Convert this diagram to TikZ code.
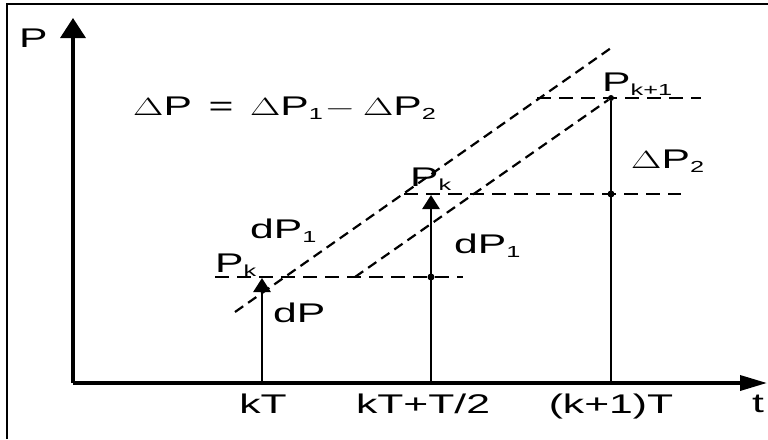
\documentclass[tikz,border=0pt]{standalone}
\usepackage{graphicx}
\usepackage{fontspec}
\setmainfont{Liberation Sans}
\usetikzlibrary{arrows.meta}

\newcommand{\wtxt}[1]{\scalebox{1.58}[1]{\fontsize{27}{32}\selectfont #1}}
\newcommand{\idx}[1]{\raisebox{-4.5pt}{\fontsize{16}{19}\selectfont #1}}

\tikzset{
  axis/.style={line width=3.5pt, -{Triangle[length=20pt,width=25pt]}},
  taxis/.style={line width=3.5pt, -{Triangle[length=27pt,width=15pt]}},
  sample/.style={line width=2.8pt},
  samplearrow/.style={line width=2.8pt, -{Triangle[length=14pt,width=17pt]}},
  level/.style={line width=2.2pt, dash pattern=on 14pt off 8pt},
  slope/.style={line width=2.2pt, dash pattern=on 10pt off 6pt},
  lbl/.style={inner sep=0pt, anchor=base west},
  tick/.style={inner sep=0pt, anchor=base},
  pt/.style={circle, fill, inner sep=0pt, minimum size=7pt},
}

\begin{document}
\begin{tikzpicture}[x=1pt, y=-1pt]
  \useasboundingbox (0,0) rectangle (768,439);
  % frame
  \draw[line width=2.5pt] (7,439) -- (7,4) -- (768,4);

  % axes
  \coordinate (O) at (73,383);
  \coordinate (ytip) at (73,18);
  \coordinate (xtip) at (767,383);
  \draw[axis] (O) -- (ytip);
  \draw[taxis] (O) -- (xtip);

  % sample instants
  \coordinate (t0) at (262,383);
  \coordinate (t1) at (431,383);
  \coordinate (t2) at (611,383);
  \coordinate (P0) at (262,278);
  \coordinate (P1) at (431,195);
  \coordinate (P2) at (611,98);
  \node[pt] (m1) at (431,277) {};
  \node[pt] (m2) at (611,194) {};
  \node[pt, minimum size=6pt] (m3) at (P2) {};
  \draw[samplearrow] (t0) -- (P0);
  \draw[samplearrow] (t1) -- (P1);
  \draw[sample] (t2) -- (m3);

  % dashed levels
  \coordinate (a1) at (215,277);
  \coordinate (a2) at (463,277);
  \coordinate (b1) at (404,194);
  \coordinate (b2) at (681,194);
  \coordinate (c1) at (537,98);
  \coordinate (c2) at (701,98);
  \draw[level] (a1) -- (a2);
  \draw[level] (b1) -- (b2);
  \draw[level] (c1) -- (c2);

  % dashed slopes
  \coordinate (s1) at (235,312);
  \coordinate (s2) at (611,48);
  \coordinate (r1) at (355,277);
  \draw[slope] (s1) -- (s2);
  \draw[slope] (r1) -- (m3);

  % labels
  \node[lbl] (Plab) at (19,47) {\wtxt{P}};
  \node[lbl] (tlab) at (752,412) {\wtxt{t}};
  \node[lbl] (eq) at (133,115) {\wtxt{$\Delta$P\kern3pt{} = \kern3pt$\Delta$P\idx{1}{\kern1pt}$-${\kern5pt}$\Delta$P\idx{2}}};
  \node[lbl] (dP1a) at (250,238) {\wtxt{dP\idx{1}}};
  \node[lbl] (Pka) at (215,272) {\wtxt{P\idx{k}}};
  \node[lbl] (dP) at (273,322) {\wtxt{dP}};
  \node[lbl] (Pkb) at (410,186) {\wtxt{P\idx{k}}};
  \node[lbl] (dP1b) at (454,253) {\wtxt{dP\idx{1}}};
  \node[lbl] (Pk1) at (602,91) {\wtxt{P\idx{k+1}}};
  \node[lbl] (dP2) at (631,168) {\wtxt{$\Delta$P\idx{2}}};
  \node[tick] (kT) at (263,413) {\wtxt{kT}};
  \node[tick] (kTh) at (423,413) {\wtxt{kT+T/2}};
  \node[tick] (k1T) at (611,413) {\wtxt{(k+1)T}};
\end{tikzpicture}
\end{document}
